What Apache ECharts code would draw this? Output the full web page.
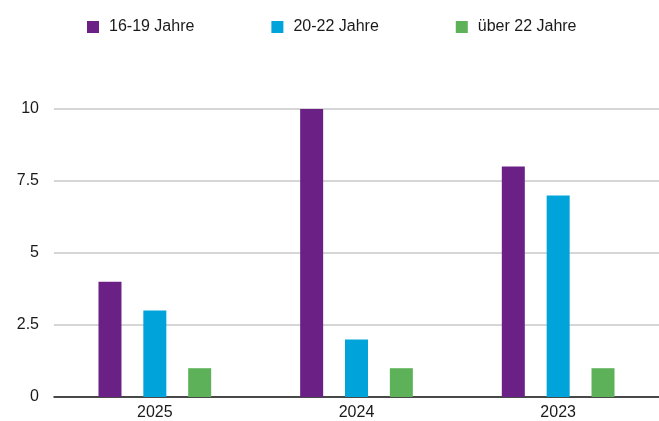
<!DOCTYPE html>
<html><head><meta charset="utf-8">
<script src="https://cdn.jsdelivr.net/npm/echarts@6/dist/echarts.min.js"></script>
<style>html,body{margin:0;padding:0;background:#fff}#c{width:659px;height:421px}</style>
</head><body><div id="c"></div>
<script>
const categories = ['2025', '2024', '2023'];
const seriesNames = ['16-19 Jahre', '20-22 Jahre', 'über 22 Jahre'];
const values1619 = [4, 10, 8];
const values2022 = [3, 2, 7];
const valuesUeber22 = [1, 1, 1];
const colors = ['#6B2085', '#00A3DA', '#5DB158'];

const font = '"Liberation Sans", Arial, Helvetica, sans-serif';
const chart = echarts.init(document.getElementById('c'), null, {renderer: 'canvas'});
const allValues = [values1619, values2022, valuesUeber22];
chart.setOption({
  animation: false,
  textStyle: {fontFamily: font},
  legend: {
    left: 87, top: 19, padding: 0,
    itemWidth: 12, itemHeight: 12, itemGap: 77,
    icon: 'rect',
    textStyle: {fontSize: 16, color: '#1a1a1a', fontFamily: font, padding: [0, 0, 0, 5]},
    data: seriesNames
  },
  grid: {left: 54, right: 0, top: 109, bottom: 22.5, containLabel: false},
  xAxis: {
    type: 'category', data: categories,
    axisLine: {lineStyle: {color: '#1a1a1a', width: 1.5}},
    axisTick: {show: false},
    axisLabel: {fontSize: 16, color: '#1a1a1a', margin: 8, fontFamily: font}
  },
  yAxis: {
    type: 'value', min: 0, max: 10, interval: 2.5,
    axisLine: {show: false}, axisTick: {show: false},
    axisLabel: {fontSize: 16, color: '#1a1a1a', margin: 15, fontFamily: font},
    splitLine: {lineStyle: {color: '#c8c8c8', width: 1.5}}
  },
  series: seriesNames.map((n, i) => ({
    name: n, type: 'bar', data: allValues[i],
    barWidth: 23, barGap: '95%',
    itemStyle: {color: colors[i]}
  }))
});
</script></body></html>
